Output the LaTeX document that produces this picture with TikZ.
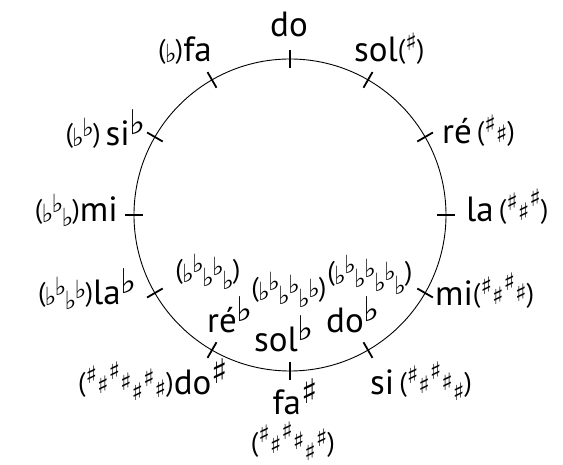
\documentclass[tikz,border=0pt]{standalone}
\usepackage{fontspec}
\setmainfont{PT Sans}
\newfontfamily\accfont{DejaVu Sans}

% 조표용 변화표 (높이는 보표 칸 수)
\newlength\accstep
\setlength\accstep{3.5pt}
\newcommand{\kfl}[1]{\makebox[10pt]{\raisebox{\dimexpr#1\accstep-15pt\relax}{\accfont\fontsize{25}{25}\selectfont ♭}}}
\newcommand{\ksh}[1]{\makebox[11.5pt]{\raisebox{\dimexpr#1\accstep-16.5pt\relax}{\accfont\fontsize{24}{24}\selectfont ♯}}}
\newcommand{\kparen}[1]{\raisebox{3pt}{\fontsize{27}{27}\selectfont(}#1\raisebox{3pt}{\fontsize{27}{27}\selectfont)}}
\newcommand{\supfl}{\raisebox{11pt}{\accfont\fontsize{34}{34}\selectfont ♭}}
\newcommand{\supsh}{\raisebox{11pt}{\accfont\fontsize{34}{34}\selectfont ♯}}

\begin{document}
\begin{tikzpicture}[x=1pt,y=1pt]
        % 스타일 정의
        \tikzset{notelabel/.style={font=\fontsize{35}{37}\selectfont, inner sep=0pt}}
        \tikzset{keylabel/.style={inner sep=0pt}}
        \tikzset{tickmark/.style={line width=1.8pt}}

        \useasboundingbox (-290,-250) rectangle (273,215);

        % 1. 원과 눈금
        \coordinate (c) at (0,0);
        \draw[line width=0.9pt] (c) circle (156);
        \foreach \a in {0,30,...,330}
            \draw[tickmark] (\a:147) -- (\a:165);

        % 2. 바깥쪽 음 이름 (올림표 쪽)
        \node[notelabel, anchor=base] (do) at (-1,178) {do};
        \node[notelabel, anchor=base west] (sol) at (64,153) {sol\kparen{\ksh{8}}};
        \node[notelabel, anchor=base west] (re) at (152,71) {ré\hspace{5pt}\kparen{\ksh{8}\ksh{5}}};
        \node[notelabel, anchor=base west] (la) at (176,-7) {la\hspace{5pt}\kparen{\ksh{8}\ksh{5}\ksh{9}}};
        \node[notelabel, anchor=base west] (mi) at (145,-91) {mi\kparen{\ksh{8}\ksh{5}\ksh{9}\ksh{6}}};
        \node[notelabel, anchor=base west] (si) at (80,-180) {si\hspace{5pt}\kparen{\ksh{8}\ksh{5}\ksh{9}\ksh{6}\ksh{3}}};
        \node[notelabel, anchor=base] (fas) at (5,-200) {fa\supsh};
        \node[keylabel] (kfas) at (3,-226) {\kparen{\ksh{8}\ksh{5}\ksh{9}\ksh{6}\ksh{3}\ksh{7}}};
        \node[notelabel, anchor=base east] (dos) at (-62,-180) {\kparen{\ksh{8}\ksh{5}\ksh{9}\ksh{6}\ksh{3}\ksh{7}\ksh{4}}do\supsh};

        % 3. 내림표 쪽
        \node[notelabel, anchor=base east] (fa) at (-78,153) {\kparen{\kfl{4}}fa};
        \node[notelabel, anchor=base east] (sib) at (-144,69) {\kparen{\kfl{4}\kfl{7}}\hspace{5pt}si\supfl};
        \node[notelabel, anchor=base east] (mib) at (-172,-7) {\kparen{\kfl{4}\kfl{7}\kfl{3}}mi};
        \node[notelabel, anchor=base east] (lab) at (-153,-90) {\kparen{\kfl{4}\kfl{7}\kfl{3}\kfl{6}}la\supfl};

        % 원 안쪽: 조표는 이름 위에
        \node[keylabel] (kreb) at (-82,-57) {\kparen{\kfl{4}\kfl{7}\kfl{3}\kfl{6}\kfl{2}}};
        \node[notelabel, anchor=base] (reb) at (-60,-118) {ré\supfl};
        \node[keylabel] (ksolb) at (-1,-75) {\kparen{\kfl{4}\kfl{7}\kfl{3}\kfl{6}\kfl{2}\kfl{5}}};
        \node[notelabel, anchor=base] (solb) at (-6,-137) {sol\supfl};
        \node[keylabel] (kdob) at (80,-60) {\kparen{\kfl{4}\kfl{7}\kfl{3}\kfl{6}\kfl{2}\kfl{5}\kfl{1}}};
        \node[notelabel, anchor=base] (dob) at (63,-118) {do\supfl};
    \end{tikzpicture}
\end{document}
